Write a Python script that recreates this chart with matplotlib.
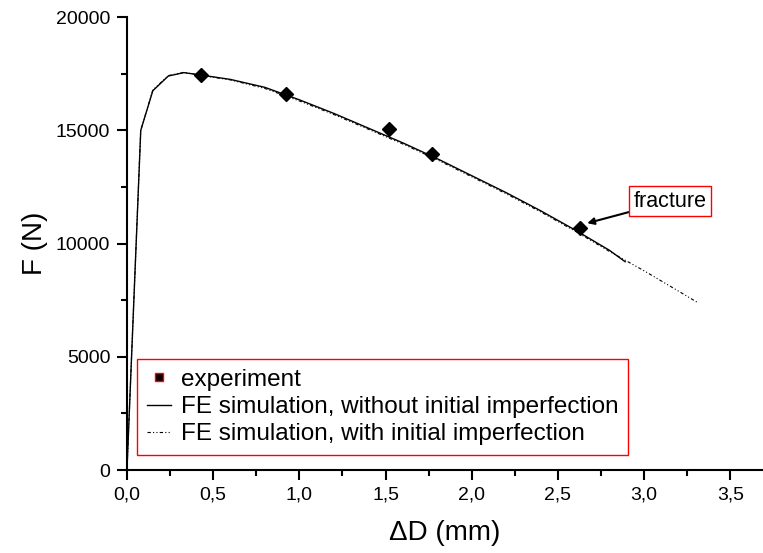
import matplotlib
matplotlib.use("Agg")
import matplotlib.pyplot as plt
from matplotlib.ticker import MultipleLocator, FuncFormatter

# Data
exp_x = [0.43, 0.92, 1.52, 1.77, 2.63]
exp_y = [17450, 16600, 15050, 13950, 10700]

sim1_x = [0, 0.08, 0.15, 0.24, 0.33, 0.45, 0.6, 0.8, 1.0, 1.2, 1.4, 1.6, 1.8, 2.0, 2.2, 2.4, 2.6, 2.8, 2.89]
sim1_y = [0, 15000, 16750, 17400, 17550, 17420, 17250, 16900, 16350, 15750, 15100, 14450, 13750, 13000, 12250, 11450, 10600, 9700, 9200]

sim2_x = [0, 0.08, 0.15, 0.24, 0.33, 0.45, 0.6, 0.8, 1.0, 1.2, 1.4, 1.6, 1.8, 2.0, 2.2, 2.4, 2.6, 2.8, 3.0, 3.2, 3.31]
sim2_y = [0, 15000, 16780, 17420, 17560, 17400, 17230, 16850, 16300, 15700, 15050, 14400, 13700, 12950, 12200, 11400, 10550, 9650, 8800, 7900, 7400]

REG = ['Liberation Sans', 'DejaVu Sans']
plt.rcParams['font.family'] = REG

fig = plt.figure(figsize=(7.63, 5.53), dpi=100)
ax = fig.add_axes([0.1664, 0.15, 0.8336, 0.819])

l1, = ax.plot(sim1_x, sim1_y, color='black', lw=1.0, label='FE simulation, without initial imperfection')
l2, = ax.plot(sim2_x, sim2_y, color='black', lw=0.8, linestyle=(0, (3, 2, 1, 2, 1, 2)),
              label='FE simulation, with initial imperfection')
ax.plot(exp_x, exp_y, linestyle='none', marker='D', color='black', markersize=7)
hexp, = ax.plot([], [], linestyle='none', marker='s', markerfacecolor='black',
                markeredgecolor='red', markersize=6, label='experiment')

ax.set_xlim(0, 3.69)
ax.set_ylim(0, 20000)
ax.spines['top'].set_visible(False)
ax.spines['right'].set_visible(False)
ax.spines['left'].set_linewidth(1.5)
ax.spines['bottom'].set_linewidth(1.5)

ax.xaxis.set_major_locator(MultipleLocator(0.5))
ax.xaxis.set_minor_locator(MultipleLocator(0.25))
ax.yaxis.set_major_locator(MultipleLocator(5000))
ax.yaxis.set_minor_locator(MultipleLocator(2500))
ax.xaxis.set_major_formatter(FuncFormatter(lambda v, p: f"{v:.1f}".replace('.', ',')))
ax.tick_params(which='major', direction='out', length=7, width=1.5, labelsize=14, pad=5)
ax.tick_params(which='minor', direction='out', length=4, width=1.5)

ax.set_xlabel('ΔD (mm)', fontsize=20, labelpad=12)
ax.set_ylabel('F (N)', fontsize=20, labelpad=6)

leg = ax.legend(handles=[hexp, l1, l2], loc='lower left', bbox_to_anchor=(0.0157, 0.033),
                borderaxespad=0, fancybox=False, framealpha=1, edgecolor='red',
                prop={'family': REG, 'size': 17.5},
                handlelength=1.0, handletextpad=0.4, labelspacing=0.22, borderpad=0.4)
leg.get_frame().set_linewidth(1.0)

ax.annotate('fracture', xy=(2.67, 10900), xytext=(3.15, 11876),
            fontsize=15.5, family=REG, va='center', ha='center',
            bbox=dict(boxstyle='square,pad=0.2', fc='white', ec='red', lw=1.0),
            arrowprops=dict(arrowstyle='-|>', color='black', lw=1.5, shrinkA=42, shrinkB=0,
                            mutation_scale=10))

fig.savefig('out.png', dpi=100)
